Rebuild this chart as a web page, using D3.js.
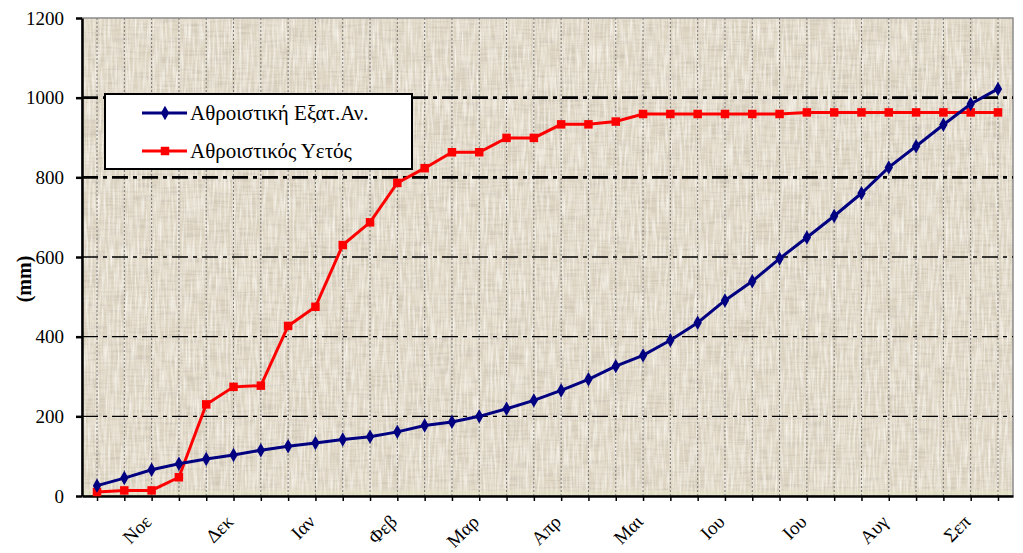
<!DOCTYPE html>
<meta charset="utf-8">
<style>
  body { margin: 0; background: #fff; }
  text { font-family: "Liberation Serif", "DejaVu Serif", serif; }
</style>

<!-- Load d3.js -->
<script src="https://d3js.org/d3.v7.min.js"></script>

<!-- Create a div where the graph will take place -->
<div id="my_dataviz"></div>

<script>

  // dekades from 2nd dekade of Oct to 2nd dekade of Sep
  var categories = d3.range(34);

  // month labels, one every 3 dekades (1st dekade of each month)
  var monthLabels = ["Νοε", "Δεκ", "Ιαν", "Φεβ", "Μαρ", "Απρ", "Μαι", "Ιου", "Ιου", "Αυγ", "Σεπ"];

  // series names
  var seriesNames = ["Αθροιστική Εξατ.Αν.", "Αθροιστικός Υετός"];

  // cumulative evaporation (mm)
  var evapValues = [26, 45, 66, 81, 93, 103, 115, 125, 133, 142, 149, 161, 177, 186, 200, 219, 240,
                    265, 293, 326, 353, 391, 435, 491, 539, 596, 649, 703, 760, 825, 878, 932, 984, 1022];

  // cumulative rainfall (mm)
  var rainValues = [10, 14, 14, 47, 230, 274, 277, 427, 475, 630, 687, 786, 823, 863, 863, 899, 899,
                    933, 933, 940, 959, 959, 959, 959, 959, 959, 963, 963, 963, 963, 963, 963, 963, 963];

  // y ticks
  var yTicks = [0, 200, 400, 600, 800, 1000, 1200];

  // set the dimensions and margins of the graph
  var margin = {top: 18, right: 10, bottom: 57, left: 82},
      width = 1023 - margin.left - margin.right,
      height = 553 - margin.top - margin.bottom;

  var svgRoot = d3.select("#my_dataviz")
    .append("svg")
      .attr("width", 1023)
      .attr("height", 553);

  // texture for the plot area
  var defs = svgRoot.append("defs");
  var f1 = defs.append("filter").attr("id", "texH")
      .attr("x", 0).attr("y", 0).attr("width", "100%").attr("height", "100%");
  f1.append("feTurbulence").attr("type", "fractalNoise")
      .attr("baseFrequency", "0.04 0.45").attr("numOctaves", 2).attr("seed", 4);
  f1.append("feColorMatrix").attr("type", "matrix")
      .attr("values", "0 0 0 0 0.55  0 0 0 0 0.50  0 0 0 0 0.42  1.5 0 0 0 -0.62");
  var f2 = defs.append("filter").attr("id", "texV")
      .attr("x", 0).attr("y", 0).attr("width", "100%").attr("height", "100%");
  f2.append("feTurbulence").attr("type", "fractalNoise")
      .attr("baseFrequency", "0.45 0.04").attr("numOctaves", 2).attr("seed", 9);
  f2.append("feColorMatrix").attr("type", "matrix")
      .attr("values", "0 0 0 0 0.98  0 0 0 0 0.96  0 0 0 0 0.91  1.6 0 0 0 -0.58");

  var svg = svgRoot.append("g")
      .attr("transform", "translate(" + margin.left + "," + margin.top + ")");

  // X scale: one point per dekade
  var x = d3.scalePoint()
      .domain(categories)
      .range([0, width])
      .padding(0.55);

  // Y scale
  var y = d3.scaleLinear()
      .domain([0, 1200])
      .range([height, 0]);

  // plot background
  svg.append("rect")
      .attr("width", width).attr("height", height)
      .attr("fill", "#dfd6c4");
  svg.append("rect")
      .attr("width", width).attr("height", height)
      .attr("filter", "url(#texH)");
  svg.append("rect")
      .attr("width", width).attr("height", height)
      .attr("filter", "url(#texV)");
  svg.append("rect")
      .attr("y", y(14)).attr("width", width).attr("height", height - y(14))
      .attr("fill", "#e4e4c2").attr("opacity", 0.55);

  // plot border (top / right)
  svg.append("rect")
      .attr("width", width).attr("height", height)
      .attr("fill", "none").attr("stroke", "#8c8c8c").attr("stroke-width", 1.5);

  // vertical grid
  svg.append("g")
    .selectAll("line")
    .data(categories)
    .enter().append("line")
      .attr("x1", function(d) { return x(d); })
      .attr("x2", function(d) { return x(d); })
      .attr("y1", 0).attr("y2", height)
      .attr("stroke", "#7a7a7a")
      .attr("stroke-width", 1)
      .attr("stroke-dasharray", "2,2");

  // horizontal grid, dash-dot
  svg.append("g")
    .selectAll("line")
    .data(yTicks.filter(function(d) { return d > 0 && d < 1200; }))
    .enter().append("line")
      .attr("x1", 0).attr("x2", width)
      .attr("y1", function(d) { return y(d); })
      .attr("y2", function(d) { return y(d); })
      .attr("stroke", "#000")
      .attr("stroke-width", function(d) { return d >= 800 ? 2.6 : 1.4; })
      .attr("stroke-dasharray", "16,5,4,5");

  // Y axis
  var yAxis = svg.append("g")
    .call(d3.axisLeft(y).tickValues(yTicks).tickFormat(d3.format("d"))
      .tickSize(6).tickSizeOuter(0).tickPadding(12));
  yAxis.select(".domain").attr("stroke", "#000").attr("stroke-width", 2.5);
  yAxis.selectAll(".tick line").attr("stroke", "#000").attr("stroke-width", 2.5);
  yAxis.selectAll("text")
      .attr("font-size", 19)
      .attr("fill", "#000");

  // X axis
  var xAxis = svg.append("g")
      .attr("transform", "translate(0," + height + ")")
    .call(d3.axisBottom(x).tickSize(5).tickSizeOuter(0).tickFormat(""));
  xAxis.select(".domain").attr("stroke", "#000").attr("stroke-width", 2.5);
  xAxis.selectAll(".tick line").attr("stroke", "#000").attr("stroke-width", 1.5);

  // month labels, rotated
  svg.append("g")
    .selectAll("text")
    .data(monthLabels)
    .enter().append("text")
      .attr("transform", function(d, i) {
        return "translate(" + (x(categories[2 + i * 3]) + 1) + "," + (height + 27) + ") rotate(-45)";
      })
      .attr("text-anchor", "end")
      .attr("font-size", 19)
      .attr("fill", "#000")
      .text(function(d) { return d; });

  // Y title
  svg.append("text")
      .attr("transform", "translate(" + (-margin.left + 31) + "," + (height / 2 + 22) + ") rotate(-90)")
      .attr("text-anchor", "middle")
      .attr("font-size", 20)
      .attr("font-weight", "bold")
      .text("(mm)");

  var line = d3.line()
      .x(function(d, i) { return x(categories[i]); })
      .y(function(d) { return y(d); });

  // rainfall line + squares
  svg.append("path")
      .datum(rainValues)
      .attr("fill", "none")
      .attr("stroke", "#ff0000")
      .attr("stroke-width", 3)
      .attr("d", line);
  svg.append("g")
    .selectAll("path")
    .data(rainValues)
    .enter().append("path")
      .attr("transform", function(d, i) { return "translate(" + x(categories[i]) + "," + y(d) + ")"; })
      .attr("d", d3.symbol().type(d3.symbolSquare).size(72))
      .attr("fill", "#ff0000");

  // evaporation line + diamonds
  svg.append("path")
      .datum(evapValues)
      .attr("fill", "none")
      .attr("stroke", "#000080")
      .attr("stroke-width", 3)
      .attr("d", line);
  svg.append("g")
    .selectAll("path")
    .data(evapValues)
    .enter().append("path")
      .attr("transform", function(d, i) { return "translate(" + x(categories[i]) + "," + y(d) + ")"; })
      .attr("d", d3.symbol().type(d3.symbolDiamond).size(60))
      .attr("fill", "#000080");

  // legend
  var legend = svgRoot.append("g").attr("transform", "translate(105,94)");
  legend.append("rect")
      .attr("width", 307).attr("height", 75)
      .attr("fill", "#fff").attr("stroke", "#000").attr("stroke-width", 2);
  var legColors = ["#000080", "#ff0000"];
  var legSymbols = [d3.symbolDiamond, d3.symbolSquare];
  var legItem = legend.selectAll(".item")
    .data(seriesNames)
    .enter().append("g")
      .attr("class", "item")
      .attr("transform", function(d, i) { return "translate(0," + (19 + i * 38) + ")"; });
  legItem.append("line")
      .attr("x1", 37).attr("x2", 82)
      .attr("stroke", function(d, i) { return legColors[i]; })
      .attr("stroke-width", 3);
  legItem.append("path")
      .attr("transform", "translate(60,0)")
      .attr("d", function(d, i) { return d3.symbol().type(legSymbols[i]).size(i ? 72 : 60)(); })
      .attr("fill", function(d, i) { return legColors[i]; });
  legItem.append("text")
      .attr("x", 85).attr("y", 7)
      .attr("font-size", 21)
      .attr("fill", "#000")
      .text(function(d) { return d; });

</script>
